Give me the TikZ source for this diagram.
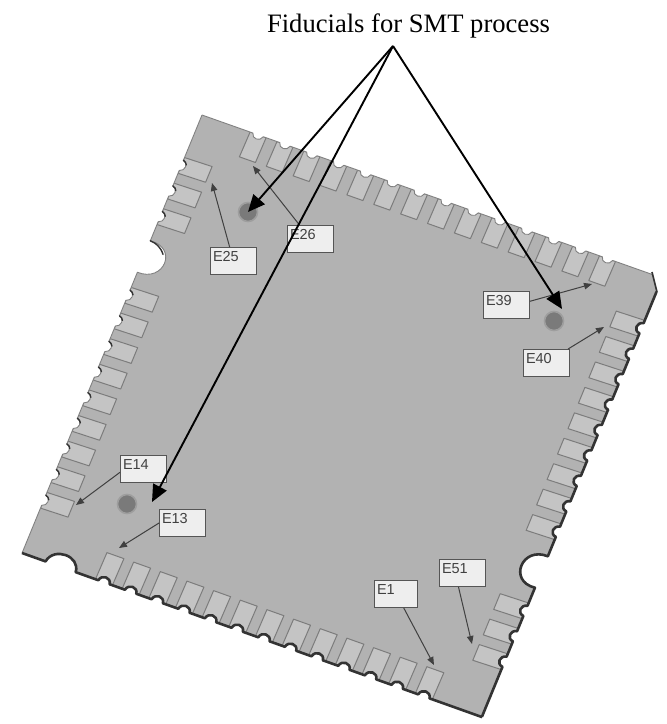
\documentclass[tikz,border=0pt]{standalone}
\usepackage{fontspec}
\setmainfont{Liberation Serif}
\setsansfont{Liberation Sans}
\usetikzlibrary{arrows.meta}
\definecolor{boardc}{HTML}{B2B2B2}
\definecolor{padc}{HTML}{C4C4C4}
\definecolor{padl}{HTML}{7C7C7C}
\definecolor{shadowc}{HTML}{333333}
\definecolor{rimc}{HTML}{808080}
\definecolor{boxc}{HTML}{EEEEEE}
\definecolor{boxl}{HTML}{555555}
\definecolor{inkc}{HTML}{404040}
\tikzset{
  padshape/.style={fill=padc,draw=padl,line width=1pt,line join=round},
  rimlight/.style={draw=rimc,line width=0.9pt,line join=round},
  rimdark/.style={draw=shadowc,line width=2.6pt,line join=round},
  rimmark/.style={draw=shadowc,line width=1.4pt,line cap=round},
  tag/.style={rectangle,anchor=north west,draw=boxl,line width=1pt,fill=boxc,text=inkc,
    font=\sffamily\fontsize{14.5}{16}\selectfont,inner xsep=2.5pt,inner ysep=3pt,
    text height=10.5pt,text depth=10.5pt,align=left},
  fid/.style={circle,fill=black!52,draw=black!38,line width=1.6pt,minimum size=19pt,inner sep=0pt},
  thin arrow/.style={draw=inkc,line width=1pt,-{Triangle[length=8pt,width=6.5pt]}},
  big arrow/.style={draw=black,line width=1.9pt,-{Triangle[length=17pt,width=15pt]}}
}
% side frame: s along the side, d inward from it, given in picture pixels
\newcommand{\setframe}[6]{\def\ox{#1}\def\oy{#2}\def\ux{#3}\def\uy{#4}\def\vx{#5}\def\vy{#6}}
\def\frparse#1,#2\relax{%
  \pgfmathsetmacro\frx{\ox+(#1)*\ux+(#2)*\vx}%
  \pgfmathsetmacro\fry{\oy+(#1)*\uy+(#2)*\vy}%
  \pgfpointxy{\frx}{\fry}}
\tikzdeclarecoordinatesystem{fr}{\frparse#1\relax}
\newcommand{\bites}[3]{\foreach \p in #1 { -- (fr cs:\p+3,0) .. controls (fr cs:\p+4,#3) and (fr cs:\p+#2-4,#3) .. (fr cs:\p+#2-3,0) }}
\newcommand{\padrow}[3]{\foreach \p in #1 { \path[padshape] (fr cs:\p,0) -- (fr cs:\p+#2,0) -- (fr cs:\p+#2,#3) -- (fr cs:\p,#3) -- cycle; }}
\def\toplist{51,79.5,108,136.5,165,193.5,222,250.5,279,307.5,336,364.5,393,421.5}
\def\lefta{46,73.7,101.4}
\def\leftb{186.4,214.1,241.8,269.5,297.2,324.9,352.6,380.3,408}
\def\botlist{78,106.3,134.6,162.9,191.2,219.5,247.8,276.1,304.4,332.7,361,389.3,417.6}
\def\righta{48,75.5,103,130.5,158,185.5,213,240.5,268}
\def\rightb{353.5,381,408.5}
\begin{document}
\begin{tikzpicture}[x=1pt,y=-1pt]
\useasboundingbox (0,0) rectangle (667,724);
\coordinate (A) at (202,115);
\coordinate (B) at (663,276);
\coordinate (C) at (482,717);
\coordinate (D) at (22,553);
\fill[boardc] (A) -- (B) -- (C) -- (D) -- cycle;
% top side
\setframe{202}{115}{0.943}{0.334}{-0.396}{0.918}
\padrow{\toplist}{17}{27}
\def\rim{(fr cs:0,0) \bites{\toplist}{17}{6} -- (fr cs:478,0)}
\fill[white] \rim -- (fr cs:478,-16) -- (fr cs:0,-16) -- cycle;
\draw[rimlight] \rim;
% left side
\setframe{202}{115}{-0.38}{0.925}{0.95}{0.31}
\padrow{\lefta}{17}{29}
\padrow{\leftb}{17}{29}
\def\rim{(fr cs:0,0) \bites{\lefta}{17}{6} -- (fr cs:136,0) .. controls (fr cs:134,29) and (fr cs:172,29) .. (fr cs:170,0) \bites{\leftb}{17}{6} -- (fr cs:473.5,0)}
\fill[white] \rim -- (fr cs:473.5,-16) -- (fr cs:0,-16) -- cycle;
\draw[rimlight] \rim;
\draw[rimmark] (fr cs:136,0) .. controls (fr cs:136.5,7) and (fr cs:139,12) .. (fr cs:145,17);
\foreach \p in \lefta { \draw[rimmark] (fr cs:\p+3,0) .. controls (fr cs:\p+3.5,2) and (fr cs:\p+4.5,3.5) .. (fr cs:\p+6.5,4.5); }
\foreach \p in \leftb { \draw[rimmark] (fr cs:\p+3,0) .. controls (fr cs:\p+3.5,2) and (fr cs:\p+4.5,3.5) .. (fr cs:\p+6.5,4.5); }
% bottom side
\setframe{22}{553}{0.942}{0.336}{0.396}{-0.918}
\padrow{\botlist}{18}{29}
\def\rim{(fr cs:0,0) -- (fr cs:25,0) .. controls (fr cs:27,17) and (fr cs:55,17) .. (fr cs:57,0) \bites{\botlist}{18}{7} -- (fr cs:488.4,0)}
\fill[white] \rim -- (fr cs:488.4,-16) -- (fr cs:0,-16) -- cycle;
\draw[rimdark] \rim;
% right side
\setframe{663}{276}{-0.38}{0.925}{-0.95}{-0.31}
\padrow{\righta}{17}{30}
\padrow{\rightb}{17}{30}
\def\rim{(fr cs:17,0) \bites{\righta}{17}{7} -- (fr cs:303,0) .. controls (fr cs:301,28) and (fr cs:339,28) .. (fr cs:337,0) \bites{\rightb}{17}{7} -- (fr cs:476.7,0)}
\fill[white] \rim -- (fr cs:476.7,-16) -- (fr cs:17,-16) -- cycle;
\draw[rimdark] \rim;
% chamfered corner
\coordinate (ch1) at (652,272);
\coordinate (ch2) at (657,292);
\fill[white] (ch1) -- (ch2) -- (672,292) -- (672,262) -- cycle;
\draw[rimdark,line width=1.6pt] (ch1) -- (ch2);
% fiducials
\node[fid] (f1) at (248,212) {};
\node[fid] (f2) at (554,321) {};
\node[fid] (f3) at (127,504) {};
% label boxes
\node[tag,text width=41pt] (l25) at (210,247) {E25};
\node[tag,text width=41pt] (l26) at (287,225) {E26};
\node[tag,text width=41pt] (l14) at (120,455) {E14};
\node[tag,text width=41pt] (l13) at (159,509) {E13};
\node[tag,text width=38pt] (l1) at (374,580) {E1};
\node[tag,text width=41pt] (l51) at (439,559) {E51};
\node[tag,text width=41pt] (l39) at (483,291) {E39};
\node[tag,text width=41pt] (l40) at (523,349) {E40};
% thin arrows
\coordinate (t25) at (212,183);
\coordinate (t26) at (253,166);
\coordinate (t14) at (76,505);
\coordinate (t13) at (119,548);
\coordinate (t1) at (434,665);
\coordinate (t51) at (472,644);
\coordinate (t39) at (592,284);
\coordinate (t40) at (604,327);
\draw[thin arrow] (l25) -- (t25);
\draw[thin arrow] (l26) -- (t26);
\draw[thin arrow] (l14.188) -- (t14);
\draw[thin arrow] (l13.west) -- (t13);
\draw[thin arrow] (l1.-61) -- (t1);
\draw[thin arrow] (l51.-106) -- (t51);
\draw[thin arrow] (l39.9) -- (t39);
\draw[thin arrow] (l40.33) -- (t40);
% title and big arrows
\node[anchor=base,font=\fontsize{26.6}{30}\selectfont,inner sep=0pt] (title) at (408.5,32) {Fiducials for SMT process};
\coordinate (apex) at (393,46);
\coordinate (b1) at (248,212);
\coordinate (b2) at (562,309);
\coordinate (b3) at (152,502);
\draw[big arrow] (apex) -- (b1);
\draw[big arrow] (apex) -- (b2);
\draw[big arrow] (apex) -- (b3);
\end{tikzpicture}
\end{document}
